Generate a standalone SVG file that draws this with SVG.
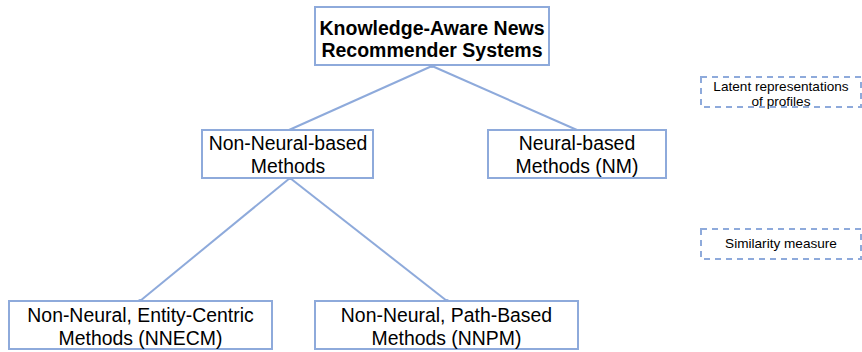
<svg xmlns="http://www.w3.org/2000/svg" width="862" height="352" viewBox="0 0 862 352">
<style>
.box{fill:#fff;stroke:#8eaadb;stroke-width:2}
.dash{fill:#fff;stroke:#8eaadb;stroke-width:2;stroke-dasharray:6,5}
.t{font-family:"Liberation Sans",Arial,sans-serif;font-size:19.4px;fill:#000;text-anchor:middle}
.b{font-weight:bold;font-size:19.5px}
.s{font-size:13.6px}
.c{stroke:#8eaadb;stroke-width:2;fill:none}
.d{fill:#8eaadb}
</style>
<rect width="862" height="352" fill="#fff"/>
<g id="connectors">
<line class="c" x1="432" y1="66" x2="289" y2="130"/>
<line class="c" x1="432" y1="66" x2="577" y2="130"/>
<line class="c" x1="290" y1="178" x2="140" y2="301"/>
<line class="c" x1="290" y1="178" x2="447" y2="301"/>
<circle class="d" cx="432" cy="66" r="2"/>
<circle class="d" cx="290" cy="178" r="2"/>
<circle class="d" cx="140" cy="301" r="2"/>
<circle class="d" cx="447" cy="301" r="2"/>
</g>
<g id="root">
<rect class="box" x="315" y="7" width="234" height="58"/>
<text class="t b" x="432" y="35">Knowledge-Aware News</text>
<text class="t b" x="432" y="57">Recommender Systems</text>
</g>
<g id="nonneural">
<rect class="box" x="202" y="130" width="171" height="48"/>
<text class="t" x="288" y="150">Non-Neural-based</text>
<text class="t" x="288" y="173">Methods</text>
</g>
<g id="neural">
<rect class="box" x="488" y="130" width="178" height="48"/>
<text class="t" x="577" y="150">Neural-based</text>
<text class="t" x="577" y="173">Methods (NM)</text>
</g>
<g id="nnecm">
<rect class="box" x="9" y="301" width="263" height="48"/>
<text class="t" x="140.5" y="322">Non-Neural, Entity-Centric</text>
<text class="t" x="140.5" y="345">Methods (NNECM)</text>
</g>
<g id="nnpm">
<rect class="box" x="315" y="301" width="263" height="48"/>
<text class="t" x="446.5" y="322">Non-Neural, Path-Based</text>
<text class="t" x="446.5" y="345">Methods (NNPM)</text>
</g>
<g id="latent">
<rect class="dash" x="701" y="77" width="160" height="30"/>
<text class="t s" x="781" y="90.5">Latent representations</text>
<text class="t s" x="781" y="106">of profiles</text>
</g>
<g id="similarity">
<rect class="dash" x="701" y="229" width="160" height="30"/>
<text class="t s" x="781" y="248">Similarity measure</text>
</g>
</svg>
